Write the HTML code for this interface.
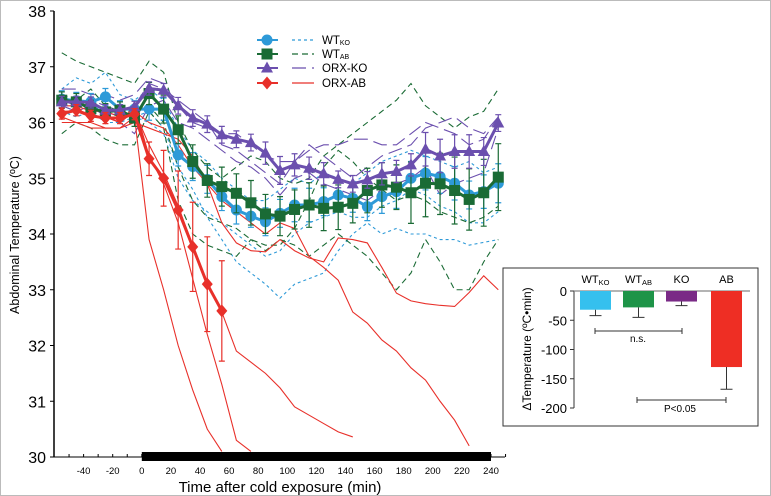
<!DOCTYPE html>
<html><head><meta charset="utf-8"><style>
body{margin:0;background:#fff}
svg{display:block;font-family:"Liberation Sans",Arial,sans-serif}
</style></head><body>
<svg id="c" width="771" height="496" viewBox="0 0 771 496">
<rect x="0.5" y="0.5" width="770" height="495" fill="#fff" stroke="#bbb"/>
<g id="g"></g>
</svg>
<script>
const times=[-55,-45,-35,-25,-15,-5,5,15,25,35,45,55,65,75,85,95,105,115,125,135,145,155,165,175,185,195,205,215,225,235,245];
const wtkoMean=[36.42,36.39,36.37,36.46,36.24,36.24,36.24,36.24,35.42,35.21,34.98,34.67,34.43,34.32,34.22,34.37,34.52,34.52,34.58,34.70,34.64,34.49,34.67,34.76,35.0,35.09,35.03,34.91,34.70,34.76,34.91];
const wtabMean=[36.40,36.37,36.25,36.19,36.22,36.08,36.52,36.24,35.87,35.30,34.96,34.85,34.73,34.56,34.36,34.32,34.44,34.52,34.46,34.48,34.55,34.78,34.88,34.84,34.74,34.91,34.90,34.78,34.62,34.74,35.02];
const orxkoMean=[36.37,36.37,36.36,36.22,36.22,36.28,36.61,36.58,36.30,36.08,35.97,35.78,35.70,35.64,35.45,35.14,35.24,35.18,35.08,34.98,34.90,34.97,35.08,35.12,35.24,35.52,35.40,35.48,35.48,35.48,35.99];
const orxabMean=[36.16,36.22,36.12,36.08,36.08,36.15,35.35,35.0,34.43,33.77,33.1,32.62];
const wtkoErr=[0.15,0.15,0.15,0.15,0.15,0.15,0.2,0.2,0.2,0.25,0.25,0.25,0.25,0.2,0.25,0.25,0.3,0.3,0.25,0.25,0.25,0.25,0.3,0.3,0.3,0.3,0.3,0.3,0.25,0.3,0.35];
const wtabErr=[0.15,0.15,0.15,0.15,0.15,0.15,0.2,0.25,0.25,0.3,0.3,0.35,0.35,0.4,0.35,0.35,0.35,0.4,0.4,0.4,0.35,0.4,0.4,0.4,0.55,0.6,0.55,0.6,0.55,0.6,0.6];
const orxkoErr=[0.1,0.1,0.1,0.1,0.1,0.1,0.12,0.12,0.15,0.15,0.15,0.15,0.15,0.15,0.2,0.25,0.2,0.2,0.2,0.15,0.15,0.15,0.2,0.2,0.2,0.3,0.3,0.3,0.3,0.25,0.15];
const orxabErr=[0.1,0.1,0.1,0.1,0.1,0.1,0.3,0.5,0.7,0.8,0.85,0.9];
const wtkoInd=[
[36.3,36.2,36.3,36.2,36.1,36.1,36.2,35.9,35.2,34.8,34.3,33.9,33.5,33.3,33.1,32.85,33.1,33.2,33.3,33.7,34.0,34.2,34.0,34.1,34.0,34.0,33.9,33.9,33.8,33.85,33.9],
[36.6,36.8,36.7,36.9,36.5,36.4,36.6,36.4,35.9,35.5,35.3,35.0,34.8,34.6,34.6,34.8,35.0,34.9,35.1,35.0,34.9,35.1,35.3,35.4,35.5,35.4,35.3,35.2,35.3,35.1,35.2],
[36.2,36.1,36.2,36.0,36.0,36.1,36.0,35.8,35.0,34.6,34.4,34.2,34.0,33.8,33.6,33.7,34.0,34.2,34.3,34.4,34.3,34.3,34.5,34.6,34.8,34.7,34.5,34.4,34.2,34.2,34.4]];
const wtabInd=[
[37.25,37.1,37.0,36.9,36.8,36.7,37.1,36.9,36.0,35.5,35.2,35.0,35.2,35.4,35.3,35.0,34.9,35.0,35.4,35.6,35.8,36.0,36.2,36.4,36.7,36.3,36.1,35.9,36.1,36.2,36.6],
[35.8,36.0,35.9,35.7,35.6,35.6,36.2,35.9,34.6,34.0,33.8,33.7,33.6,33.9,33.7,33.9,33.8,33.6,33.8,34.0,33.8,33.6,33.3,33.0,33.3,33.9,33.5,33.0,33.0,33.5,33.9],
[36.5,36.4,36.6,36.3,36.2,36.2,36.3,36.0,35.2,34.6,34.3,34.2,34.1,33.9,33.8,33.8,34.1,34.6,35.2,35.5,35.3,35.0,34.8,34.6,34.7,34.6,34.4,34.3,34.2,34.3,34.5]];
const orxkoInd=[
[36.6,36.6,36.5,36.5,36.4,36.5,36.8,36.7,36.3,36.0,35.9,35.8,35.8,35.6,35.4,35.3,35.3,35.5,35.6,35.6,35.7,35.7,35.6,35.6,35.8,36.0,35.9,35.8,35.6,35.7,36.1],
[36.3,36.2,36.3,36.1,36.0,35.8,36.3,36.4,36.0,35.9,35.7,35.5,35.3,35.2,35.0,34.7,35.0,35.1,34.9,34.8,34.7,34.6,34.8,34.9,35.0,35.2,34.7,34.9,35.0,35.1,35.9],
[36.4,36.3,36.4,36.3,36.2,36.3,36.7,36.6,36.4,36.2,36.0,35.6,35.5,35.3,35.1,34.9,35.3,35.6,35.4,35.2,35.0,35.2,35.4,35.5,35.6,35.9,36.0,36.1,35.9,35.8,36.1]];
const orxabInd=[
[36.0,36.0,35.9,35.9,35.9,36.1,33.9,33.0,32.0,31.2,30.5,30.1],
[36.2,36.2,36.1,36.1,36.0,36.3,35.4,34.9,34.2,33.2,32.2,31.3,30.3,30.1],
[36.3,36.3,36.2,36.2,36.1,36.2,35.6,35.1,34.5,33.8,33.1,32.6,31.9,31.7,31.5,31.24,30.9,30.75,30.6,30.45,30.36],
[36.1,36.0,36.0,35.9,35.9,36.0,35.9,35.8,35.7,35.4,34.9,34.2,33.84,33.7,33.68,33.9,33.7,33.57,33.5,33.93,33.9,33.84,33.4,32.94,32.8,32.75,32.72,32.7,32.95,33.25,33.0],
[36.2,36.2,36.1,36.1,36.0,36.2,36.0,35.9,35.6,35.2,34.9,34.6,34.4,34.2,34.0,34.2,34.1,33.6,33.4,33.17,32.6,32.4,32.1,31.9,31.6,31.38,31.0,30.66,30.2]];
const yTicks=[30,31,32,33,34,35,36,37,38];
const xTicks=[-40,-20,0,20,40,60,80,100,120,140,160,180,200,220,240];
const barCats=["WT","WT","KO","AB"];
const barSubs=["KO","AB","",""];
const barVals=[-32,-28,-18,-130];
const barErrs=[10,17,7,38];
const barTicks=[0,-50,-100,-150,-200];

const NS="http://www.w3.org/2000/svg";
const G=document.getElementById('g');
function el(t,a,p){const e=document.createElementNS(NS,t);for(const k in a)e.setAttribute(k,a[k]);(p||G).appendChild(e);return e;}
const X=t=>141.8+t*1.455;
const Y=v=>457-(v-30)*55.75;

let e;
e=el('line',{x1:54,y1:11,x2:54,y2:457,stroke:'#000','stroke-width':1.5});

e=el('line',{x1:54,y1:457,x2:505,y2:457,stroke:'#000','stroke-width':1});

e=el('rect',{x:X(0),y:452,width:X(240)-X(0),height:9,fill:'#000'});

for(const v of yTicks){
 el('line',{x1:50,y1:Y(v),x2:54,y2:Y(v),stroke:'#000'});
 e=el('text',{x:46,y:Y(v)+6,'text-anchor':'end','font-size':16});e.textContent=v;
 
}
for(let t=-50;t<=250;t+=10){el('line',{x1:X(t),y1:454,x2:X(t),y2:457,stroke:'#000'});}
for(const t of xTicks){
 e=el('text',{x:X(t),y:474,'text-anchor':'middle','font-size':9.5});e.textContent=t;
 
}
e=el('text',{x:280,y:492,'text-anchor':'middle','font-size':15});e.textContent='Time after cold exposure (min)';

e=el('text',{x:0,y:0,'text-anchor':'middle','font-size':12.5,transform:'translate(19,235) rotate(-90)'});e.textContent='Abdominal Temperature (ºC)';


function pts(arr){return arr.map((v,i)=>X(times[i])+','+Y(v)).join(' ');}
const groups=[
 {name:'wt-ko',col:'#2e9ad8',ind:wtkoInd,mean:wtkoMean,err:wtkoErr,dash:'3,3',m:'circle'},
 {name:'wt-ab',col:'#1a6b35',ind:wtabInd,mean:wtabMean,err:wtabErr,dash:'6,4',m:'square'},
 {name:'orx-ko',col:'#6b4fae',ind:orxkoInd,mean:orxkoMean,err:orxkoErr,dash:'14,6',m:'triangle'},
 {name:'orx-ab',col:'#e8302a',ind:orxabInd,mean:orxabMean,err:orxabErr,dash:'',m:'diamond'}];
for(const g of groups){
 for(const a of g.ind){
  e=el('polyline',{points:pts(a),fill:'none',stroke:g.col,'stroke-width':1.1,'stroke-dasharray':g.dash});
  
 }
}
function marker(m,x,y,c){
 if(m==='circle')return el('circle',{cx:x,cy:y,r:5.5,fill:c});
 if(m==='square')return el('rect',{x:x-5.5,y:y-5.5,width:11,height:11,fill:c});
 if(m==='triangle')return el('polygon',{points:`${x},${y-6.5} ${x+6},${y+4.5} ${x-6},${y+4.5}`,fill:c});
 return el('polygon',{points:`${x},${y-6.5} ${x+5.5},${y} ${x},${y+6.5} ${x-5.5},${y}`,fill:c});
}
for(const g of groups){
 g.mean.forEach((v,i)=>{
  const x=X(times[i]);
  e=el('path',{d:`M${x},${Y(v-g.err[i])}V${Y(v+g.err[i])}M${x-3},${Y(v-g.err[i])}h6M${x-3},${Y(v+g.err[i])}h6`,stroke:g.col,'stroke-width':1.2,fill:'none'});
  
 });
 e=el('polyline',{points:pts(g.mean),fill:'none',stroke:g.col,'stroke-width':3});
 
 g.mean.forEach((v,i)=>{
  e=marker(g.m,X(times[i]),Y(v),g.col);
  
 });
}
const legY=[40,54,68,83];
const legLab=[['WT','KO'],['WT','AB'],['ORX-KO',''],['ORX-AB','']];
groups.forEach((g,i)=>{
 const y=legY[i];
 el('line',{x1:257,y1:y,x2:278,y2:y,stroke:g.col,'stroke-width':2});
 e=marker(g.m,267,y,g.col);
 
 el('line',{x1:292,y1:y,x2:314,y2:y,stroke:g.col,'stroke-width':1.2,'stroke-dasharray':g.dash});
 e=el('text',{x:322,y:y+4,'font-size':11.5});
 
 e.appendChild(document.createTextNode(legLab[i][0]));
 if(legLab[i][1]){const s=el('tspan',{'font-size':7,dy:1},e);s.textContent=legLab[i][1];}
});
// inset
const IY=v=>291+(v/-200)*117;
e=el('rect',{x:503,y:268,width:255,height:158,fill:'#fff',stroke:'#333','stroke-width':1});

el('line',{x1:574,y1:IY(0),x2:574,y2:IY(-200),stroke:'#333'});
el('line',{x1:574,y1:IY(0),x2:750,y2:IY(0),stroke:'#888','stroke-width':1.2});
for(const v of barTicks){
 el('line',{x1:570,y1:IY(v),x2:574,y2:IY(v),stroke:'#333'});
 e=el('text',{x:567,y:IY(v)+5,'text-anchor':'end','font-size':13});e.textContent=v;
 
}
e=el('text',{x:0,y:0,'text-anchor':'middle','font-size':12,transform:'translate(531,349) rotate(-90)'});e.textContent='ΔTemperature (ºC•min)';

const barCols=['#35c0ee','#1e9448','#7a2a86','#ee2e24'];
const barX=[580,623,666,711];
barVals.forEach((v,i)=>{
 const x=barX[i],w=31;
 e=el('rect',{x:x,y:IY(0),width:w,height:IY(v)-IY(0),fill:barCols[i]});
 
 const cx=x+w/2;
 el('path',{d:`M${cx},${IY(v)}V${IY(v-barErrs[i])}M${cx-6},${IY(v-barErrs[i])}h12`,stroke:'#333',fill:'none'});
 e=el('text',{x:cx,y:283,'text-anchor':'middle','font-size':11});
 
 e.appendChild(document.createTextNode(barCats[i]));
 if(barSubs[i]){const s=el('tspan',{'font-size':7.5,dy:2},e);s.textContent=barSubs[i];}
});
el('path',{d:'M595,328v6M595,331H682M682,328v6',stroke:'#333',fill:'none'});
e=el('text',{x:638,y:342,'text-anchor':'middle','font-size':10});e.textContent='n.s.';

el('path',{d:'M637,397v6M637,400H726M726,397v6',stroke:'#333',fill:'none'});
e=el('text',{x:680,y:412,'text-anchor':'middle','font-size':10});e.textContent='P<0.05';

</script>
</body></html>
